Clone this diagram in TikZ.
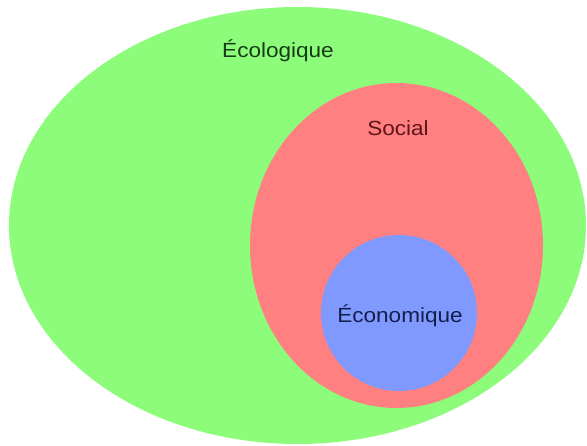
\documentclass[tikz,border=0pt]{standalone}
\usepackage{fontspec}
\setmainfont{Liberation Sans}
\definecolor{ecofill}{RGB}{140,252,122}
\definecolor{socfill}{RGB}{255,128,128}
\definecolor{econfill}{RGB}{128,153,255}
\definecolor{ecotext}{RGB}{22,60,22}
\definecolor{soctext}{RGB}{95,20,25}
\definecolor{econtext}{RGB}{20,30,75}
\begin{document}
\begin{tikzpicture}[x=1pt,y=-1pt,
  lbl/.style={inner sep=0pt,anchor=base,font=\fontsize{20.5}{24}\selectfont,xscale=1.1}]
\useasboundingbox (0,0) rectangle (587,445);
\fill[ecofill] (297.5,225.5) ellipse [x radius=288.5, y radius=218.5];
\fill[socfill] (396.5,245.5) ellipse [x radius=146.5, y radius=162.5];
\fill[econfill] (399,313) circle [radius=78];
\node[lbl,text=ecotext] (eco) at (278,57) {Écologique};
\node[lbl,text=soctext] (soc) at (398,135.5) {Social};
\node[lbl,text=econtext] (econ) at (400,322) {Économique};
\end{tikzpicture}
\end{document}
